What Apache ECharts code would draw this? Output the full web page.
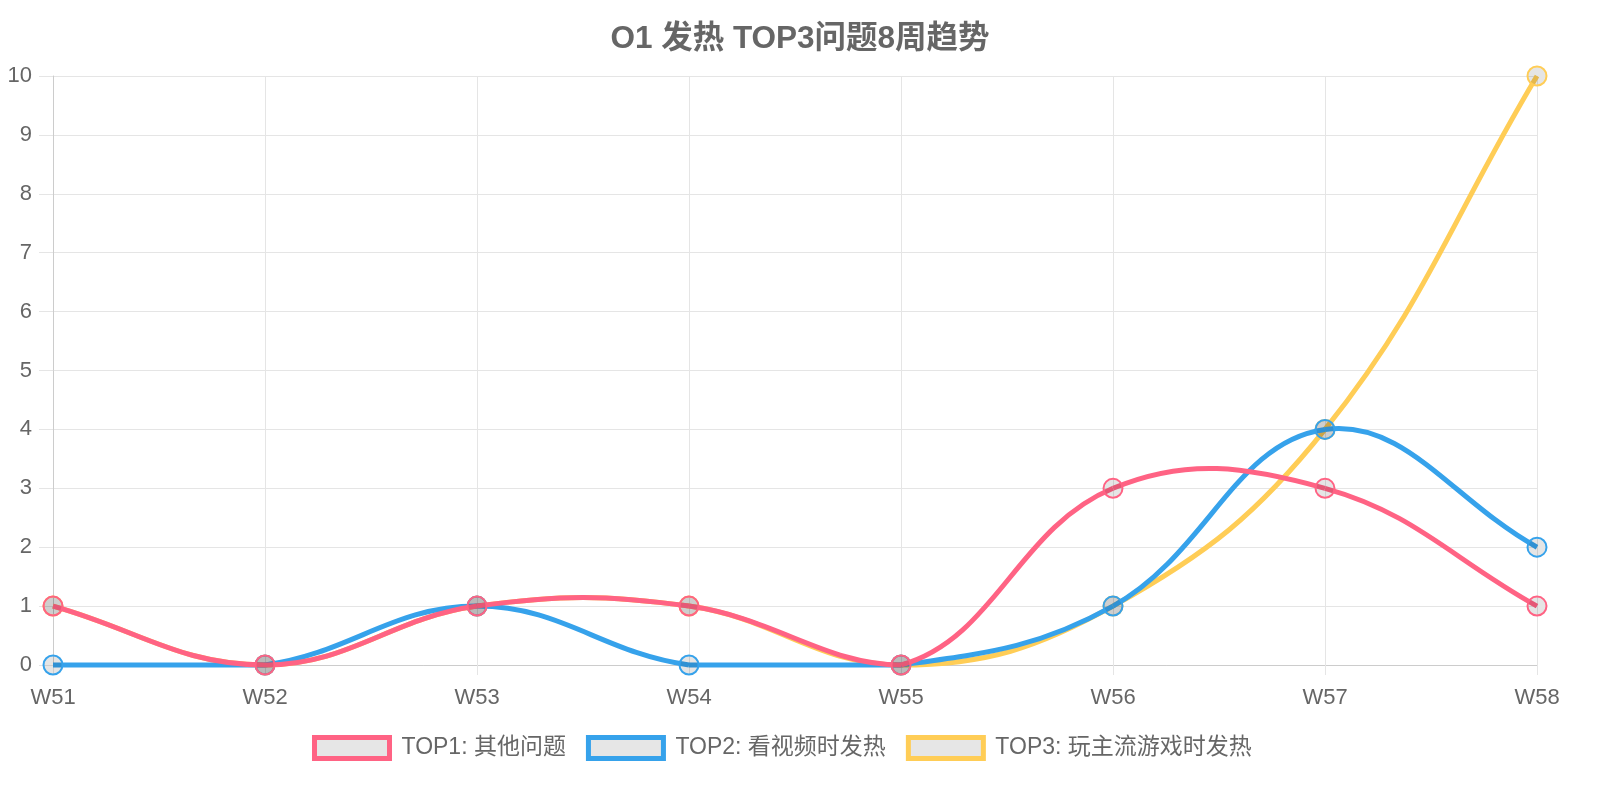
<!DOCTYPE html>
<html>
<head>
<meta charset="utf-8">
<script src="https://cdn.jsdelivr.net/npm/echarts@6/dist/echarts.min.js"></script>
<style>
  html, body { margin: 0; padding: 0; background: #fff; }
  #main { width: 1600px; height: 800px; }
</style>
</head>
<body>
<div id="main"></div>
<script>
// 数据
var weeks = ["W51", "W52", "W53", "W54", "W55", "W56", "W57", "W58"];
var top1Name = "TOP1: 其他问题";
var top2Name = "TOP2: 看视频时发热";
var top3Name = "TOP3: 玩主流游戏时发热";
var top1Data = [1, 0, 1, 1, 0, 3, 3, 1];
var top2Data = [0, 0, 1, 0, 0, 1, 4, 2];
var top3Data = [1, 0, 1, 1, 0, 1, 4, 10];

var colors = ["#ff6384", "#36a2eb", "#ffcd56"];
var font = "'Liberation Sans', Arial, 'Noto Sans CJK SC', sans-serif";
var tension = 0.4;

(function() {
    var myChart = echarts.init(document.getElementById("main"));

    // 曲线控制点（与 Chart.js 的 splineCurve 同样的算法）
    function controlPoints(pts, i, area) {
        var cur = pts[i];
        var prev = pts[i - 1] || cur;
        var next = pts[i + 1] || cur;
        var d01 = Math.hypot(cur[0] - prev[0], cur[1] - prev[1]);
        var d12 = Math.hypot(next[0] - cur[0], next[1] - cur[1]);
        var s01 = d01 / (d01 + d12) || 0;
        var s12 = d12 / (d01 + d12) || 0;
        var fa = tension * s01;
        var fb = tension * s12;
        var dx = next[0] - prev[0];
        var dy = next[1] - prev[1];
        function cap(p) {
            return [
                Math.min(Math.max(p[0], area.x), area.x + area.width),
                Math.min(Math.max(p[1], area.y), area.y + area.height)
            ];
        }
        return {
            prev: cap([cur[0] - fa * dx, cur[1] - fa * dy]),
            next: cap([cur[0] + fb * dx, cur[1] + fb * dy])
        };
    }

    function makeSeries(name, vals, color, z) {
        return {
            name: name,
            type: "custom",
            z: z,
            data: vals.map(function(v, i) { return [weeks[i], v]; }),
            encode: { x: 0, y: 1 },
            renderItem: function(params, api) {
                var i = params.dataIndex;
                var area = params.coordSys;
                var pts = vals.map(function(v, k) { return api.coord([k, v]); });
                var children = [];
                if (i < vals.length - 1) {
                    var c0 = controlPoints(pts, i, area);
                    var c1 = controlPoints(pts, i + 1, area);
                    children.push({
                        type: "bezierCurve",
                        z2: 1,
                        shape: {
                            x1: pts[i][0], y1: pts[i][1],
                            x2: pts[i + 1][0], y2: pts[i + 1][1],
                            cpx1: c0.next[0], cpy1: c0.next[1],
                            cpx2: c1.prev[0], cpy2: c1.prev[1]
                        },
                        style: { stroke: color, lineWidth: 5, fill: null, lineCap: "butt" }
                    });
                }
                children.push({
                    type: "circle",
                    z2: 2,
                    shape: { cx: pts[i][0], cy: pts[i][1], r: 9.5 },
                    style: { fill: "rgba(0,0,0,0.1)", stroke: color, lineWidth: 2 }
                });
                return { type: "group", children: children };
            }
        };
    }

    var option = {
        animation: false,
        textStyle: { fontFamily: font },
        title: {
            text: "O1 发热 TOP3问题8周趋势",
            left: "center",
            top: 19,
            textStyle: {
                color: "#666",
                fontSize: 31.5,
                fontWeight: "bold",
                fontFamily: font
            }
        },
        legend: {
            bottom: 34,
            left: 307,
            itemWidth: 75,
            itemHeight: 21,
            itemGap: 20,
            icon: "rect",
            textStyle: {
                color: "#666",
                fontSize: 23,
                fontFamily: font,
                padding: [0, 0, 0, 7]
            },
            data: [
                { name: top1Name, itemStyle: { color: "#e6e6e6", borderColor: colors[0], borderWidth: 5 } },
                { name: top2Name, itemStyle: { color: "#e6e6e6", borderColor: colors[1], borderWidth: 5 } },
                { name: top3Name, itemStyle: { color: "#e6e6e6", borderColor: colors[2], borderWidth: 5 } }
            ]
        },
        grid: {
            left: 53,
            right: 63,
            top: 76,
            bottom: 135,
            containLabel: false
        },
        xAxis: {
            type: "category",
            boundaryGap: false,
            data: weeks,
            axisLine: { show: true, lineStyle: { color: "#cccccc", width: 1 } },
            axisTick: { show: true, length: 10, lineStyle: { color: "#e5e5e5" } },
            axisLabel: { color: "#666", fontSize: 22, margin: 22, fontFamily: font },
            splitLine: { show: true, lineStyle: { color: "#e5e5e5", width: 1 } }
        },
        yAxis: {
            type: "value",
            min: 0,
            max: 10,
            interval: 1,
            axisLine: { show: true, lineStyle: { color: "#cccccc", width: 1 } },
            axisTick: { show: true, length: 14, lineStyle: { color: "#e5e5e5" } },
            axisLabel: { color: "#666", fontSize: 22, margin: 21, fontFamily: font },
            splitLine: { show: true, lineStyle: { color: "#e5e5e5", width: 1 } }
        },
        series: [
            makeSeries(top1Name, top1Data, colors[0], 5),
            makeSeries(top2Name, top2Data, colors[1], 4),
            makeSeries(top3Name, top3Data, colors[2], 3)
        ]
    };

    myChart.setOption(option);
    window.addEventListener("resize", function() {
        myChart.resize();
    });
})();
</script>
</body>
</html>
